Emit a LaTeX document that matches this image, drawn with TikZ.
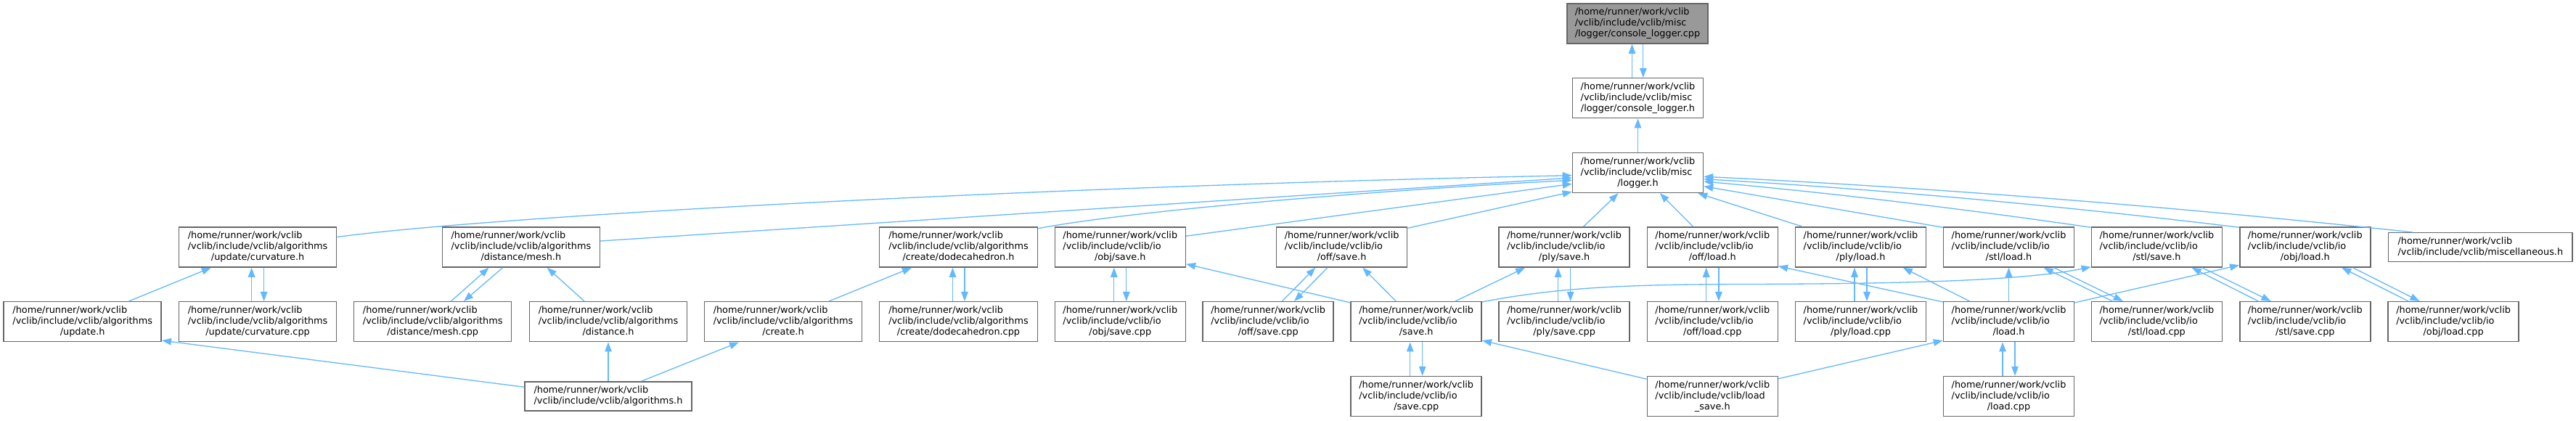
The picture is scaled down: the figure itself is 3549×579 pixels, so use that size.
\documentclass[tikz,border=0pt]{standalone}
\usepackage{fontspec}
\newfontfamily\dvs{DejaVu Sans}
\usetikzlibrary{arrows.meta,calc}
\definecolor{edgeblue}{HTML}{63B8FF}
\definecolor{boxgray}{HTML}{666666}
\definecolor{rootfill}{HTML}{999999}
\newcommand\labthree[3]{\begin{tabular}{@{}l@{}}#1\\#2\\\multicolumn{1}{@{}c@{}}{#3}\end{tabular}}
\newcommand\labtwo[2]{\begin{tabular}{@{}l@{}}#1\\#2\end{tabular}}
\newcommand\hrw{/home/runner/work/vclib}
\newcommand\vio{/vclib/include/vclib/io}
\newcommand\valg{/vclib/include/vclib/algorithms}
\tikzset{
  filebox/.style={draw=boxgray, line width=1.5pt, fill=white, inner sep=0pt,
    minimum height=55pt, font=\dvs\fontsize{12.85}{15}\selectfont},
  iobox/.style={filebox, minimum width=180pt},
  algbox/.style={filebox, minimum width=217pt},
  dep/.style={draw=edgeblue, line width=1.3pt, -{Triangle[length=13pt,width=9.5pt]}},
}
\begin{document}
\begin{tikzpicture}[x=1pt,y=-1pt]
\fill[white] (0,0) rectangle (3549,579);
\useasboundingbox (0,0) rectangle (3549,579);

% rows 0-2
\node[filebox, minimum width=194pt, fill=rootfill] (clc) at (2256,32.5) {\labthree{\hrw}{/vclib/include/vclib/misc}{/logger/console\_logger.cpp}};
\node[iobox] (clh) at (2256.5,135.2) {\labthree{\hrw}{/vclib/include/vclib/misc}{/logger/console\_logger.h}};
\node[iobox] (lg) at (2256.5,238) {\labthree{\hrw}{/vclib/include/vclib/misc}{/logger.h}};

% row 3
\node[algbox] (cvh) at (355.1,340.5) {\labthree{\hrw}{\valg}{/update/curvature.h}};
\node[algbox] (msh) at (717.9,340.5) {\labthree{\hrw}{\valg}{/distance/mesh.h}};
\node[algbox, minimum width=218pt] (ddh) at (1320.5,340.5) {\labthree{\hrw}{\valg}{/create/dodecahedron.h}};
\node[iobox] (osh) at (1543.3,340.5) {\labthree{\hrw}{\vio}{/obj/save.h}};
\node[iobox] (fsh) at (1848.6,340.5) {\labthree{\hrw}{\vio}{/off/save.h}};
\node[iobox] (psh) at (2155.1,340.5) {\labthree{\hrw}{\vio}{/ply/save.h}};
\node[iobox] (flh) at (2359.3,340.5) {\labthree{\hrw}{\vio}{/off/load.h}};
\node[iobox] (plh) at (2563.5,340.5) {\labthree{\hrw}{\vio}{/ply/load.h}};
\node[iobox] (slh) at (2767.5,340.5) {\labthree{\hrw}{\vio}{/stl/load.h}};
\node[iobox] (ssh) at (2971.4,340.5) {\labthree{\hrw}{\vio}{/stl/save.h}};
\node[iobox] (olh) at (3175.8,340.5) {\labthree{\hrw}{\vio}{/obj/load.h}};
\node[filebox, minimum width=253.3pt, minimum height=40pt] (misc) at (3417.3,340.7) {\labtwo{\hrw}{/vclib/include/vclib/miscellaneous.h}};

% row 4
\node[algbox] (uph) at (113.7,443.2) {\labthree{\hrw}{\valg}{/update.h}};
\node[algbox] (cvc) at (355.1,443.2) {\labthree{\hrw}{\valg}{/update/curvature.cpp}};
\node[algbox] (msc) at (596.2,443.2) {\labthree{\hrw}{\valg}{/distance/mesh.cpp}};
\node[algbox] (dsh) at (838,443.2) {\labthree{\hrw}{\valg}{/distance.h}};
\node[algbox] (crh) at (1079,443.2) {\labthree{\hrw}{\valg}{/create.h}};
\node[algbox, minimum width=218pt] (ddc) at (1320.5,443.2) {\labthree{\hrw}{\valg}{/create/dodecahedron.cpp}};
\node[iobox] (osc) at (1543.3,443.2) {\labthree{\hrw}{\vio}{/obj/save.cpp}};
\node[iobox] (fsc) at (1747.2,443.2) {\labthree{\hrw}{\vio}{/off/save.cpp}};
\node[iobox] (svh) at (1951.2,443.2) {\labthree{\hrw}{\vio}{/save.h}};
\node[iobox] (psc) at (2155.1,443.2) {\labthree{\hrw}{\vio}{/ply/save.cpp}};
\node[iobox] (flc) at (2359.3,443.2) {\labthree{\hrw}{\vio}{/off/load.cpp}};
\node[iobox] (plc) at (2563.5,443.2) {\labthree{\hrw}{\vio}{/ply/load.cpp}};
\node[iobox] (ldh) at (2767.5,443.2) {\labthree{\hrw}{\vio}{/load.h}};
\node[iobox] (slc) at (2971.4,443.2) {\labthree{\hrw}{\vio}{/stl/load.cpp}};
\node[iobox] (ssc) at (3175.8,443.2) {\labthree{\hrw}{\vio}{/stl/save.cpp}};
\node[iobox] (olc) at (3380.1,443.2) {\labthree{\hrw}{\vio}{/obj/load.cpp}};

% row 5
\node[filebox, minimum width=229.6pt, minimum height=40.3pt] (algh) at (838,545.9) {\labtwo{\hrw}{/vclib/include/vclib/algorithms.h}};
\node[iobox] (svc) at (1951.2,546) {\labthree{\hrw}{\vio}{/save.cpp}};
\node[iobox] (lsh) at (2359.3,546) {\labthree{\hrw}{/vclib/include/vclib/load}{\_save.h}};
\node[iobox] (ldc) at (2767.5,546) {\labthree{\hrw}{\vio}{/load.cpp}};

% top edges
\draw[dep] ($(clh.north)+(-8,0)$) -- ($(clc.south)+(-7.5,0)$);
\draw[dep] ($(clc.south)+(7.8,0)$) -- ($(clh.north)+(7.3,0)$);
\draw[dep] (lg.north) -- (clh.south);

% edges into logger.h
\draw[dep] ($(cvh.east)+(0,-14)$) .. controls (700,295) and (1500,255) .. ($(lg.west)+(0,3.7)$);
\draw[dep] ($(msh.east)+(0,-8.5)$) -- ($(lg.west)+(0,7)$);
\draw[dep] ($(ddh.north east)+(0,2.5)$) .. controls (1560,290) and (1900,262) .. ($(lg.west)+(0,10.3)$);
\draw[dep] ($(osh.north east)+(0,13)$) -- ($(lg.west)+(0,15.3)$);
\draw[dep] ($(fsh.north east)+(0,2)$) -- ($(lg.south west)+(0,-2)$);
\draw[dep] ($(psh.north)+(26.4,0)$) -- ($(lg.south)+(-27,0)$);
\draw[dep] ($(flh.north)+(-26.6,0)$) -- ($(lg.south)+(30.3,0)$);
\draw[dep] ($(plh.north west)+(10.7,0)$) -- ($(lg.south east)+(-8,0)$);
\draw[dep] ($(slh.north west)+(0,1)$) -- ($(lg.east)+(0,18.7)$);
\draw[dep] ($(ssh.north west)+(0,1)$) .. controls (2703,287.5) and (2525,266) .. ($(lg.east)+(0,12)$);
\draw[dep] ($(olh.north west)+(0,1)$) .. controls (2839,283.4) and (2593,261) .. ($(lg.east)+(0,8.7)$);
\draw[dep] ($(misc.north west)+(34,0)$) .. controls (2998,285) and (2672,259) .. ($(lg.east)+(0,5.3)$);

% algorithms
\draw[dep] ($(uph.north)+(63.8,0)$) -- ($(cvh.south)+(-64.3,0)$);
\draw[dep] ($(cvc.north)+(-8.5,0)$) -- ($(cvh.south)+(-8.5,0)$);
\draw[dep] ($(cvh.south)+(8.5,0)$) -- ($(cvc.north)+(8.5,0)$);
\draw[dep] ($(msc.north)+(25.2,0)$) -- ($(msh.south)+(-44.4,0)$);
\draw[dep] ($(msh.south)+(-25.3,0)$) -- ($(msc.north)+(42.8,0)$);
\draw[dep] ($(dsh.north)+(-33,0)$) -- ($(msh.south)+(35.9,0)$);
\draw[dep] ($(algh.west)+(0,-12.6)$) -- ($(uph.south east)+(0,-2.4)$);
\draw[dep] (algh.north) -- (dsh.south);
\draw[dep] ($(algh.north)+(46,0)$) -- ($(crh.south)+(-61,0)$);
\draw[dep] ($(crh.north)+(63,0)$) -- ($(ddh.south)+(-64.5,0)$);
\draw[dep] ($(ddc.north)+(-8,0)$) -- ($(ddh.south)+(-8,0)$);
\draw[dep] ($(ddh.south)+(8.5,0)$) -- ($(ddc.north)+(8.5,0)$);

% io save
\draw[dep] ($(osc.north)+(-8.5,0)$) -- ($(osh.south)+(-8.5,0)$);
\draw[dep] ($(osh.south)+(8.5,0)$) -- ($(osc.north)+(8.5,0)$);
\draw[dep] ($(svh.north west)+(0,2)$) -- ($(osh.south east)+(0,-5)$);
\draw[dep] ($(fsc.north)+(19.1,0)$) -- ($(fsh.south)+(-36.4,0)$);
\draw[dep] ($(fsh.south)+(-19.6,0)$) -- ($(fsc.north)+(35.9,0)$);
\draw[dep] ($(svh.north)+(-28,0)$) -- ($(fsh.south)+(28.7,0)$);
\draw[dep] ($(svh.north)+(53.8,0)$) -- ($(psh.south)+(-54,0)$);
\draw[dep] ($(psc.north)+(-8.5,0)$) -- ($(psh.south)+(-8.5,0)$);
\draw[dep] ($(psh.south)+(8.5,0)$) -- ($(psc.north)+(8.5,0)$);
\draw[dep] ($(svh.north east)+(0,1)$) .. controls (2150,395) and (2250,392) .. (2400,391.5) .. controls (2600,391) and (2780,388) .. ($(ssh.south west)+(0,-1)$);
\draw[dep] ($(svc.north)+(-8.5,0)$) -- ($(svh.south)+(-8.5,0)$);
\draw[dep] ($(svh.south)+(8.5,0)$) -- ($(svc.north)+(8.5,0)$);
\draw[dep] ($(lsh.north west)+(0,4.5)$) -- ($(svh.south east)+(0,-2.4)$);

% io load
\draw[dep] ($(flc.north)+(-8.6,0)$) -- ($(flh.south)+(-8.6,0)$);
\draw[dep] ($(flh.south)+(8.6,0)$) -- ($(flc.north)+(8.6,0)$);
\draw[dep] ($(ldh.north west)+(0,1)$) -- ($(flh.south east)+(0,-2)$);
\draw[dep] ($(plc.north)+(-8.5,0)$) -- ($(plh.south)+(-8.5,0)$);
\draw[dep] ($(plh.south)+(8.5,0)$) -- ($(plc.north)+(8.5,0)$);
\draw[dep] ($(ldh.north)+(-54,0)$) -- ($(plh.south)+(58.2,0)$);
\draw[dep] (ldh.north) -- (slh.south);
\draw[dep] ($(slc.north)+(-61,0)$) -- ($(slh.south)+(48.2,0)$);
\draw[dep] ($(slh.south)+(62.5,0)$) -- ($(slc.north)+(-46.6,0)$);
\draw[dep] ($(ssc.north)+(-64.4,0)$) -- ($(ssh.south)+(48.2,0)$);
\draw[dep] ($(ssh.south)+(62.5,0)$) -- ($(ssc.north)+(-47.2,0)$);
\draw[dep] ($(olc.north)+(-62,0)$) -- ($(olh.south)+(50.4,0)$);
\draw[dep] ($(olh.south)+(65.8,0)$) -- ($(olc.north)+(-46.7,0)$);
\draw[dep] ($(ldh.north east)+(0,2)$) -- ($(olh.south west)+(0,-3.5)$);
\draw[dep] ($(ldc.north)+(-8.5,0)$) -- ($(ldh.south)+(-8.5,0)$);
\draw[dep] ($(ldh.south)+(8.5,0)$) -- ($(ldc.north)+(8.5,0)$);
\draw[dep] ($(lsh.north east)+(0,4)$) -- ($(ldh.south west)+(0,-2.4)$);
\end{tikzpicture}
\end{document}
